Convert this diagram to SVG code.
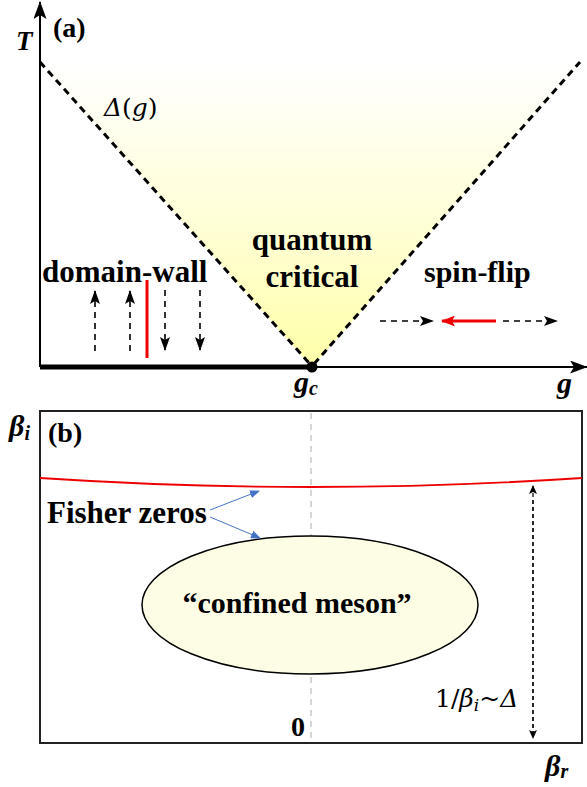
<svg xmlns="http://www.w3.org/2000/svg" width="587" height="787" viewBox="0 0 587 787">
<defs>
<linearGradient id="qc" x1="0" y1="367" x2="0" y2="62" gradientUnits="userSpaceOnUse">
<stop offset="0" stop-color="#FFFFA8"/>
<stop offset="0.4" stop-color="#FFFFD0"/>
<stop offset="0.85" stop-color="#FFFFF4"/>
<stop offset="1" stop-color="#FFFFFF"/>
</linearGradient>
<marker id="ah" markerWidth="14" markerHeight="10" refX="13" refY="5" orient="auto" markerUnits="userSpaceOnUse">
<path d="M0,0 L14,5 L0,10 L3,5 Z" fill="#000"/>
</marker>
<marker id="ahBig" markerWidth="18" markerHeight="13" refX="17" refY="6.5" orient="auto" markerUnits="userSpaceOnUse">
<path d="M0,0 L18,6.5 L0,13 L4,6.5 Z" fill="#000"/>
</marker>
<marker id="ahRed" markerWidth="14" markerHeight="11" refX="13" refY="5.5" orient="auto" markerUnits="userSpaceOnUse">
<path d="M0,0 L14,5.5 L0,11 L3,5.5 Z" fill="#E00"/>
</marker>
<marker id="ahBlue" markerWidth="10" markerHeight="8" refX="9" refY="4" orient="auto" markerUnits="userSpaceOnUse">
<path d="M0,0 L10,4 L0,8 Z" fill="#4472C4"/>
</marker>
<marker id="ahSmall" markerWidth="9" markerHeight="8" refX="8" refY="4" orient="auto" markerUnits="userSpaceOnUse">
<path d="M0,0 L9,4 L0,8 L2,4 Z" fill="#000"/>
</marker>
</defs>
<style>
.lbl{font-family:"Liberation Serif",serif;font-weight:bold;fill:#000}
.math{font-family:"DejaVu Serif","Liberation Serif",serif;fill:#000}
.it{font-style:italic}
.dash{stroke:#000;stroke-width:1.6;stroke-dasharray:6,5;fill:none}
.vdash{stroke:#000;stroke-width:3;stroke-dasharray:7,5;fill:none}
</style>
<rect width="587" height="787" fill="#fff"/>

<g id="panel-a">
<polygon id="qc-region" points="40,62 312,367 580,62" fill="url(#qc)"/>
<g id="axes-a">
<line x1="40" y1="367" x2="40" y2="2" stroke="#000" stroke-width="2" marker-end="url(#ahBig)"/>
<line x1="40" y1="367" x2="587" y2="367" stroke="#000" stroke-width="2" marker-end="url(#ahBig)"/>
<line x1="40" y1="367" x2="312" y2="367" stroke="#000" stroke-width="5"/>
<circle cx="312" cy="367" r="5.5" fill="#000"/>
</g>
<g id="crossover">
<line class="vdash" x1="40" y1="62" x2="310" y2="364"/>
<line class="vdash" x1="314" y1="364" x2="580" y2="62"/>
</g>
<text class="lbl it" x="16" y="50" font-size="27">T</text>
<text class="lbl" x="53" y="37" font-size="28">(a)</text>
<text class="math" x="104" y="116" font-size="25"><tspan class="it">Δ</tspan>(<tspan class="it">g</tspan>)</text>
<text class="lbl" x="312" y="250" font-size="31" text-anchor="middle">quantum</text>
<text class="lbl" x="312" y="287" font-size="31" text-anchor="middle">critical</text>
<text class="lbl" x="42" y="282" font-size="31">domain-wall</text>
<text class="lbl" x="424" y="282" font-size="30">spin-flip</text>
<text class="lbl it" x="294" y="392" font-size="30">g<tspan font-size="20" dy="3">c</tspan></text>
<text class="lbl it" x="557" y="393" font-size="30">g</text>
<g id="spins-left">
<line class="dash" x1="95" y1="351" x2="95" y2="291" marker-end="url(#ah)"/>
<line class="dash" x1="130" y1="351" x2="130" y2="291" marker-end="url(#ah)"/>
<line class="dash" x1="165" y1="290" x2="165" y2="350" marker-end="url(#ah)"/>
<line class="dash" x1="200" y1="290" x2="200" y2="350" marker-end="url(#ah)"/>
<line x1="147" y1="280" x2="147" y2="358" stroke="#E00" stroke-width="3"/>
</g>
<g id="spins-right">
<line class="dash" x1="380" y1="321" x2="433" y2="321" marker-end="url(#ah)"/>
<line x1="496" y1="321" x2="442" y2="321" stroke="#E00" stroke-width="3" marker-end="url(#ahRed)"/>
<line class="dash" x1="503" y1="321" x2="557" y2="321" marker-end="url(#ah)"/>
</g>
</g>

<g id="panel-b">
<rect x="40" y="411" width="542" height="332" fill="none" stroke="#222" stroke-width="2"/>
<line x1="311" y1="413" x2="311" y2="743" stroke="#BBB" stroke-width="1.2" stroke-dasharray="6,5"/>
<path d="M40,478 Q311,496 582,478" fill="none" stroke="#E00" stroke-width="1.8"/>
<g id="meson">
<ellipse cx="310" cy="605" rx="168" ry="69" fill="#FDFDE6" stroke="#000" stroke-width="1.5"/>
<text class="lbl" x="297" y="613" font-size="30" text-anchor="middle">“confined meson”</text>
</g>
<g id="fisher">
<text class="lbl" x="47" y="523" font-size="31">Fisher zeros</text>
<g id="connectors">
<line x1="210" y1="510" x2="259" y2="491" stroke="#4472C4" stroke-width="1" marker-end="url(#ahBlue)"/>
<line x1="210" y1="517" x2="260" y2="538" stroke="#4472C4" stroke-width="1" marker-end="url(#ahBlue)"/>
</g>
</g>
<line x1="533" y1="735" x2="533" y2="486" stroke="#000" stroke-width="1.2" stroke-dasharray="4,3" marker-end="url(#ahSmall)"/>
<line x1="533" y1="500" x2="533" y2="738" stroke="#000" stroke-width="1.2" stroke-dasharray="4,3" marker-end="url(#ahSmall)"/>
<text class="lbl it" x="9" y="436" font-size="30">β<tspan font-size="20" dy="4">i</tspan></text>
<text class="lbl" x="48" y="442" font-size="28">(b)</text>
<text class="lbl" x="291" y="736" font-size="28">0</text>
<text class="math" x="435" y="707" font-size="25">1/<tspan class="it">β</tspan><tspan class="it" font-size="17" dy="4">i</tspan><tspan dy="-4">~</tspan><tspan class="it">Δ</tspan></text>
<text class="lbl it" x="545" y="776" font-size="30">β<tspan font-size="20" dy="2">r</tspan></text>
</g>
</svg>
